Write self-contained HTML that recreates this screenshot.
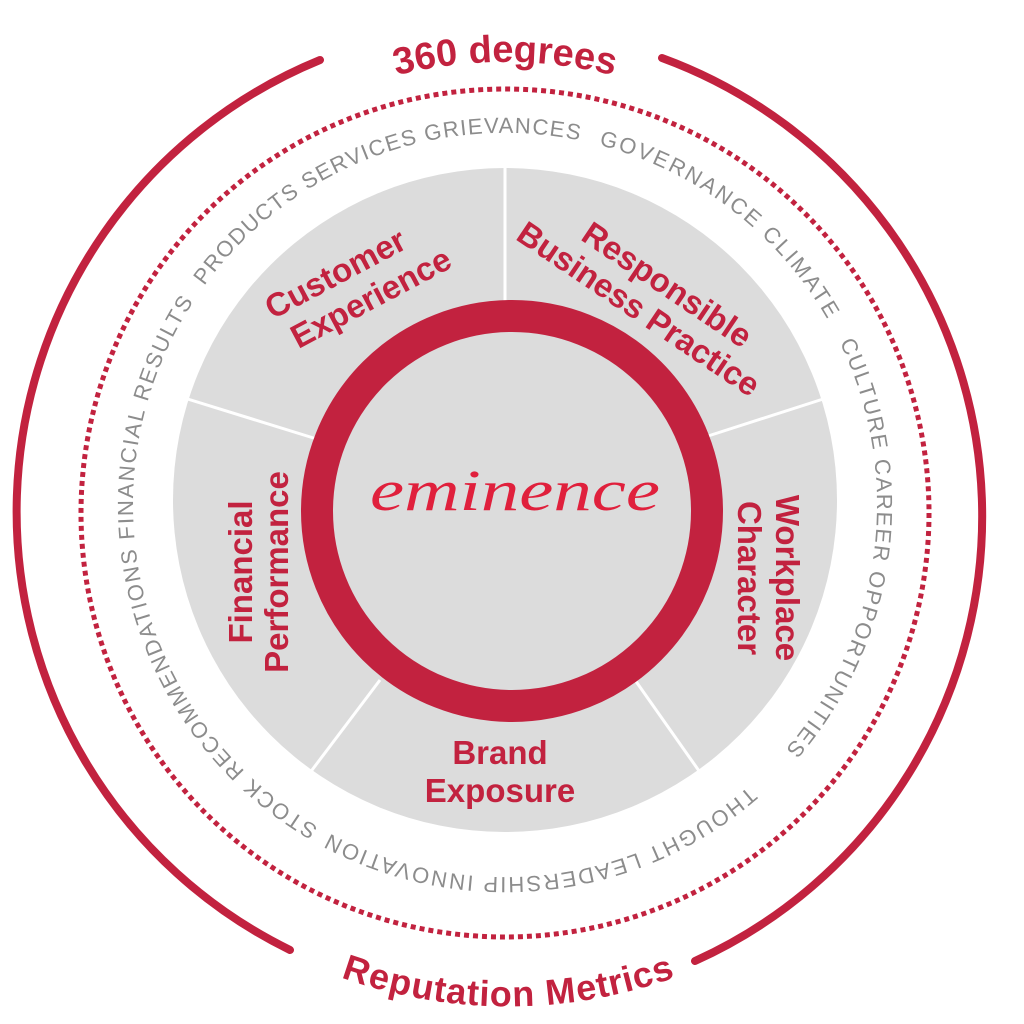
<!DOCTYPE html>
<html><head><meta charset="utf-8"><style>
html,body{margin:0;padding:0;background:#fff;width:1024px;height:1024px;overflow:hidden}
svg{display:block}
.lab{font-family:"Liberation Sans",sans-serif;font-weight:bold;font-size:33px;fill:#c2223f}
.ring{font-family:"Liberation Sans",sans-serif;font-size:22px;fill:#8c8c8c}
</style></head><body>
<svg width="1024" height="1024" viewBox="0 0 1024 1024">
<defs>
<path id="tp" d="M133 505 A372 372 0 1 1 877 505 A372 372 0 1 1 133 505 A372 372 0 1 1 877 505 A372 372 0 1 1 133 505"/>
<path id="top" d="M57 510 A448 448 0 0 1 953 510"/>
<path id="bot" d="M40 512 A468 468 0 0 0 976 512"/>
</defs>
<path d="M662 58 A488 488 0 0 1 695 961" fill="none" stroke="#c2223f" stroke-width="8" stroke-linecap="round"/>
<path d="M290 950 A488 488 0 0 1 320 60" fill="none" stroke="#c2223f" stroke-width="8" stroke-linecap="round"/>
<circle cx="505" cy="513" r="424" fill="none" stroke="#c2223f" stroke-width="5" stroke-dasharray="5 4"/>
<circle cx="505" cy="500" r="332" fill="#dcdcdc"/>
<g stroke="#fff" stroke-width="3">
<line x1="505" y1="160" x2="505" y2="305"/>
<line x1="845" y1="392" x2="705" y2="437"/>
<line x1="704" y1="778" x2="635" y2="680"/>
<line x1="306" y1="778" x2="380" y2="680"/>
<line x1="165" y1="392" x2="320" y2="440"/>
</g>
<circle cx="512" cy="511" r="195" fill="none" stroke="#c2223f" stroke-width="32"/>
<text x="515" y="510" text-anchor="middle" font-family="'Liberation Serif',serif" font-style="italic" font-size="58" fill="#e0203c" textLength="290" lengthAdjust="spacingAndGlyphs">eminence</text>
<g transform="translate(355,285) rotate(-28)" class="lab" text-anchor="middle">
<text x="-12" y="-8">Customer</text><text x="8" y="30">Experience</text></g>
<g transform="translate(638,310) rotate(34)" class="lab" text-anchor="middle">
<text x="10" y="-26">Responsible</text><text x="0" y="10">Business Practice</text></g>
<g transform="translate(762,578) rotate(90)" class="lab" text-anchor="middle">
<text x="0" y="-14">Workplace</text><text x="0" y="24">Character</text></g>
<g class="lab" text-anchor="middle"><text x="500" y="764">Brand</text><text x="500" y="802">Exposure</text></g>
<g transform="translate(258,572) rotate(-90)" class="lab" text-anchor="middle">
<text x="0" y="-6">Financial</text><text x="0" y="30">Performance</text></g>
<g class="ring">
<text><textPath href="#tp" startOffset="234" textLength="425" lengthAdjust="spacing">PRODUCTS SERVICES GRIEVANCES</textPath></text>
<text><textPath href="#tp" startOffset="679" textLength="295" lengthAdjust="spacing">GOVERNANCE CLIMATE</textPath></text>
<text><textPath href="#tp" startOffset="1000" textLength="435" lengthAdjust="spacing">CULTURE CAREER OPPORTUNITIES</textPath></text>
<text><textPath href="#tp" startOffset="1487" textLength="448" lengthAdjust="spacing">THOUGHT LEADERSHIP INNOVATION</textPath></text>
<text><textPath href="#tp" startOffset="1948" textLength="604" lengthAdjust="spacing">STOCK RECOMMENDATIONS FINANCIAL RESULTS</textPath></text>
</g>
<text class="lab" style="font-size:38px"><textPath href="#top" startOffset="50%" text-anchor="middle">360 degrees</textPath></text>
<text class="lab" style="font-size:36px"><textPath href="#bot" startOffset="50%" text-anchor="middle" dominant-baseline="hanging">Reputation Metrics</textPath></text>
</svg>
</body></html>
